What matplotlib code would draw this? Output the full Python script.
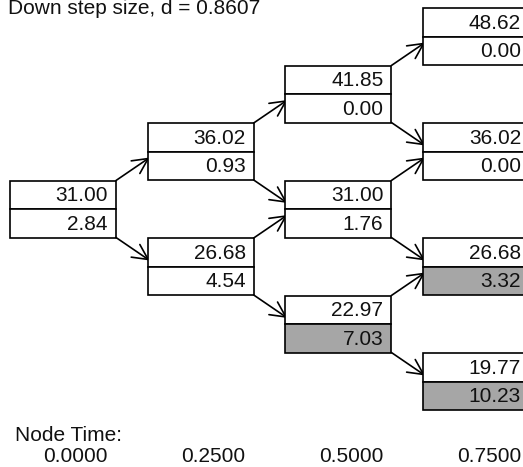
import matplotlib.pyplot as plt
from matplotlib.patches import Rectangle, FancyArrowPatch

plt.rcParams['font.family'] = ['Liberation Sans', 'DejaVu Sans']

# Tree data (row 0 = highest price at each step)
node_times = ['0.0000', '0.2500', '0.5000', '0.7500']
stock_prices = [[31.00],
                [36.02, 26.68],
                [41.85, 31.00, 22.97],
                [48.62, 36.02, 26.68, 19.77]]
option_values = [[2.84],
                 [0.93, 4.54],
                 [0.00, 1.76, 7.03],
                 [0.00, 0.00, 3.32, 10.23]]
early_exercise = [[False],
                  [False, False],
                  [False, False, True],
                  [False, False, True, True]]
title = 'Down step size, d = 0.8607'

# layout in pixels
x0, dx = 10, 137.7
y0, dy = 209, 57.5
box_w, half_h = 106, 28.5


def node_pos(i, j):
    return x0 + dx * i, y0 + dy * (2 * j - i)


fig = plt.figure(figsize=(5.23, 4.67), dpi=100)
ax = fig.add_axes([0, 0, 1, 1])
ax.set_xlim(0, 523)
ax.set_ylim(467, 0)
ax.axis('off')

fs = 15
lw = 1.2
for i, col in enumerate(stock_prices):
    for j, s in enumerate(col):
        left, mid = node_pos(i, j)
        ax.add_patch(Rectangle((left, mid - half_h), box_w, half_h,
                               facecolor='white', edgecolor='black', lw=lw))
        fc = '#a6a6a6' if early_exercise[i][j] else 'white'
        ax.add_patch(Rectangle((left, mid), box_w, half_h,
                               facecolor=fc, edgecolor='black', lw=lw))
        ax.text(left + box_w - 8, mid - half_h / 2 + 1, f'{s:.2f}',
                ha='right', va='center', fontsize=fs, color='#111111')
        ax.text(left + box_w - 8, mid + half_h / 2 + 1, f'{option_values[i][j]:.2f}',
                ha='right', va='center', fontsize=fs, color='#111111')

        # arrows to next step
        if i + 1 < len(stock_prices):
            right = left + box_w
            nl, nm_up = node_pos(i + 1, j)
            _, nm_dn = node_pos(i + 1, j + 1)
            for start, end in [((right, mid - half_h), (nl + 2, nm_up + 6)),
                               ((right, mid + half_h), (nl + 2, nm_dn - 6))]:
                ax.add_patch(FancyArrowPatch(start, end,
                                             arrowstyle='->,head_length=1.1,head_width=0.55',
                                             mutation_scale=10, lw=lw, color='black',
                                             shrinkA=0, shrinkB=0))

ax.text(8, 14, title, ha='left', va='baseline', fontsize=fs, color='#111111')
ax.text(15, 441, 'Node Time:', ha='left', va='baseline', fontsize=fs, color='#111111')
for i, t in enumerate(node_times):
    ax.text(x0 + dx * i + 98, 462, t, ha='right', va='baseline', fontsize=fs,
            color='#111111')

fig.savefig('out.png', dpi=100)
